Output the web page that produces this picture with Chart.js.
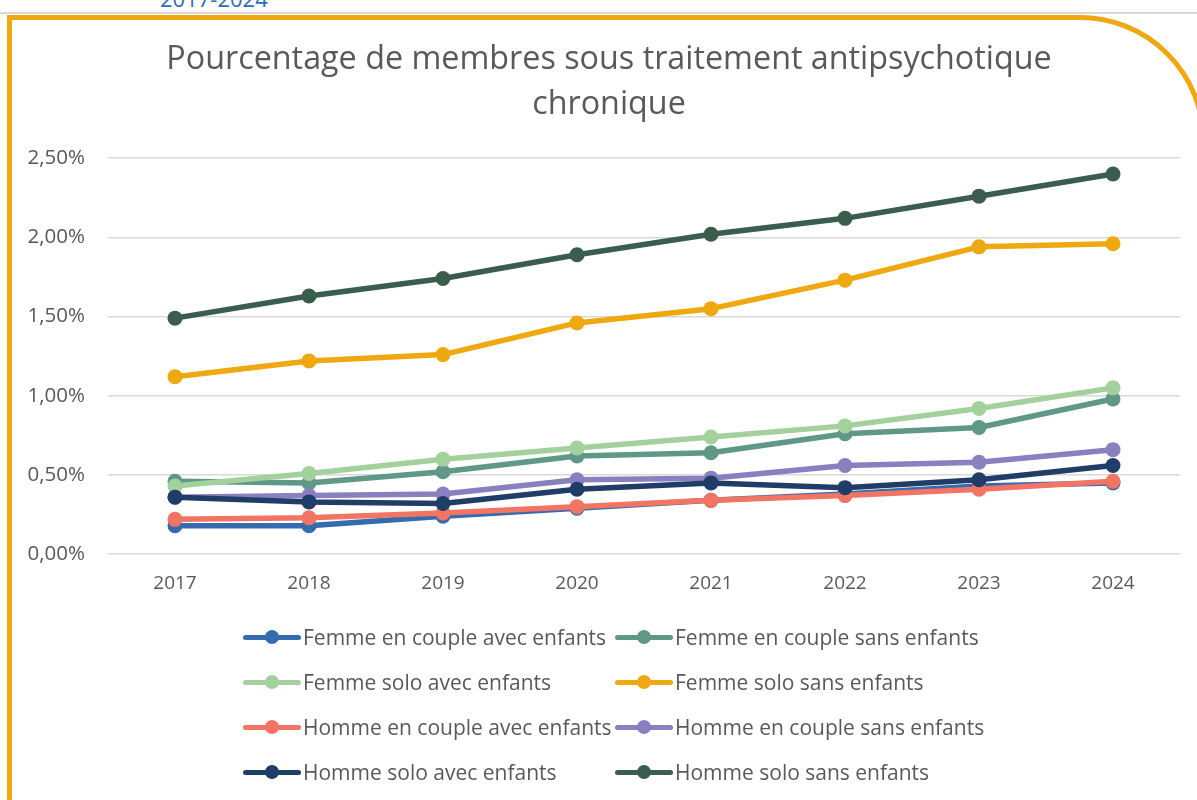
<!DOCTYPE html>
<html><head><meta charset="utf-8">
<script src="https://cdn.jsdelivr.net/npm/chart.js@4/dist/chart.umd.min.js"></script>
<style>
html,body{margin:0;padding:0;width:1197px;height:800px;overflow:hidden;background:#fff;}
#topline{position:absolute;left:0;top:12px;width:1197px;height:2px;background:#D9D9D9;}
#toptext{position:absolute;left:160px;top:-17px;font:22px 'Open Sans',sans-serif;color:#2E6DB4;white-space:nowrap;}
#frame{position:absolute;left:7px;top:15px;width:1199px;height:900px;border:5px solid #EFA80F;border-radius:0 126px 0 0;box-sizing:border-box;}
#wrap{position:absolute;left:0;top:0;width:1197px;height:621px;}
#legend{position:absolute;left:0;top:0;width:1197px;height:800px;pointer-events:none;}
.li{position:absolute;height:30px;display:flex;align-items:center;font-family:'Open Sans',sans-serif;font-size:21px;color:#595959;white-space:nowrap;transform:translateY(-50%);}
.mk{position:relative;width:58px;height:30px;margin-right:2px;}
.mk .ln{position:absolute;left:0;right:0;top:12.5px;height:5px;border-radius:3px;}
.mk .pt{position:absolute;left:22px;top:8px;width:14px;height:14px;border-radius:50%;}
</style></head>
<body>
<div id="toptext">2017-2024</div>
<div id="topline"></div>
<div id="frame"></div>
<div id="wrap"><canvas id="c"></canvas></div>
<div id="legend"></div>
<script>
const years = ['2017','2018','2019','2020','2021','2022','2023','2024'];
const femmeCoupleAvec = [0.18,0.18,0.24,0.29,0.34,0.38,0.43,0.45];
const femmeCoupleSans = [0.46,0.45,0.52,0.62,0.64,0.76,0.80,0.98];
const femmeSoloAvec   = [0.43,0.51,0.60,0.67,0.74,0.81,0.92,1.05];
const femmeSoloSans   = [1.12,1.22,1.26,1.46,1.55,1.73,1.94,1.96];
const hommeCoupleAvec = [0.22,0.23,0.26,0.30,0.34,0.37,0.41,0.46];
const hommeCoupleSans = [0.36,0.37,0.38,0.47,0.48,0.56,0.58,0.66];
const hommeSoloAvec   = [0.36,0.33,0.32,0.41,0.45,0.42,0.47,0.56];
const hommeSoloSans   = [1.49,1.63,1.74,1.89,2.02,2.12,2.26,2.40];
const seriesNames = ['Femme en couple avec enfants','Femme en couple sans enfants','Femme solo avec enfants','Femme solo sans enfants','Homme en couple avec enfants','Homme en couple sans enfants','Homme solo avec enfants','Homme solo sans enfants'];
const seriesValues = [femmeCoupleAvec,femmeCoupleSans,femmeSoloAvec,femmeSoloSans,hommeCoupleAvec,hommeCoupleSans,hommeSoloAvec,hommeSoloSans];
const seriesColors = ['#356CAF','#5F9886','#A3D19B','#EFA80F','#F27462','#8880BF','#1F3D66','#3A5D4E'];
const titleLines = ['Pourcentage de membres sous traitement antipsychotique','chronique'];
const yTicks = [0,0.5,1,1.5,2,2.5];

const datasets = seriesNames.map((n,i)=>({
  label:n, data:seriesValues[i], borderColor:seriesColors[i], backgroundColor:seriesColors[i],
  pointBackgroundColor:seriesColors[i], pointBorderWidth:0, pointRadius:7.5, borderWidth:5.5,
  tension:0, order:seriesNames.length-i, borderCapStyle:'round', borderJoinStyle:'round'
}));

const legendPos = [[243,637],[615,637],[243,682],[615,682],[243,727],[615,727],[243,772],[615,772]];
const htmlLegend = {
  id:'htmlLegend',
  afterUpdate(chart){
    const box=document.getElementById('legend'); box.innerHTML='';
    chart.data.datasets.forEach((ds,i)=>{
      const it=document.createElement('div'); it.className='li';
      it.style.left=legendPos[i][0]+'px'; it.style.top=legendPos[i][1]+'px';
      const mk=document.createElement('div'); mk.className='mk';
      const ln=document.createElement('div'); ln.className='ln'; ln.style.background=ds.borderColor;
      const pt=document.createElement('div'); pt.className='pt'; pt.style.background=ds.borderColor;
      mk.appendChild(ln); mk.appendChild(pt);
      const tx=document.createElement('span'); tx.textContent=ds.label;
      it.appendChild(mk); it.appendChild(tx); box.appendChild(it);
    });
  }
};
// shift the title box so its centre matches the original figure's centre
const titleShift = {
  id:'titleShift',
  afterLayout(chart){ const t=chart.titleBlock; if(t){ t.left=38; t.right=chart.chartArea.right; t.width=t.right-t.left; } }
};

new Chart(document.getElementById('c'),{
  type:'line',
  data:{labels:years,datasets},
  plugins:[htmlLegend,titleShift],
  options:{
    responsive:true, maintainAspectRatio:false, animation:false,
    layout:{padding:{left:20,right:17,top:0,bottom:8}},
    plugins:{
      legend:{display:false},
      tooltip:{enabled:false},
      title:{display:true,text:titleLines,color:'#595959',
        font:{family:'Open Sans',size:32.3,weight:'normal',lineHeight:1.38},
        padding:{top:38,bottom:31}}
    },
    scales:{
      x:{offset:true,grid:{display:false,drawTicks:false},border:{display:false},
        ticks:{color:'#595959',font:{family:'Open Sans',size:19},padding:18}},
      y:{min:0,max:2.5,afterFit(s){s.width=88;},
        afterBuildTicks(s){s.ticks=yTicks.map(v=>({value:v}));},
        grid:{color:'#D9D9D9',lineWidth:1.5,drawTicks:false},border:{display:false},
        ticks:{color:'#595959',font:{family:'Open Sans',size:20.5},padding:23,
          callback:v=>v.toFixed(2).replace('.',',')+'%'}}
    }
  }
});
</script>
</body></html>
